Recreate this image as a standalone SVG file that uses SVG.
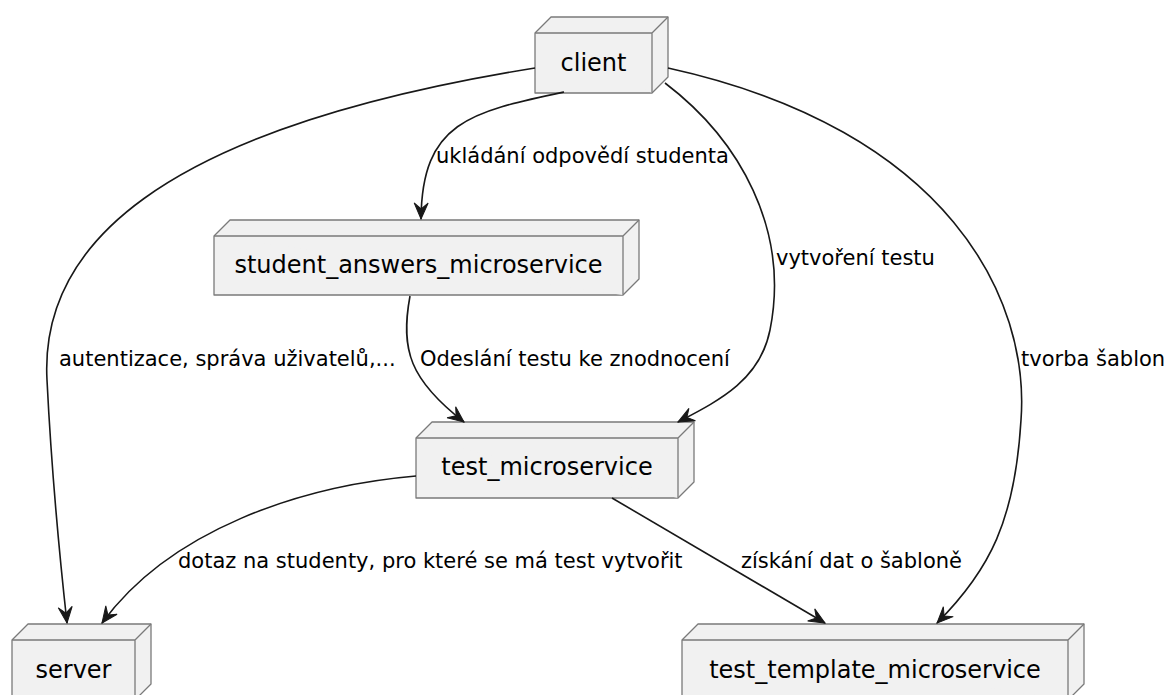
<svg xmlns="http://www.w3.org/2000/svg" width="1170" height="695" viewBox="0 0 1170 695">
  <style>
    .node path { fill: #F1F1F1; stroke: #7a7a7a; stroke-width: 1.3; stroke-linejoin: round; }
    .node text { font-family: "DejaVu Sans", "Noto Sans", sans-serif; font-size: 24px; fill: #000; text-anchor: middle; }
    .edge { fill: none; stroke: #181818; stroke-width: 1.6; }
    .label { font-family: "DejaVu Sans", "Noto Sans", sans-serif; font-size: 21px; fill: #000; }
  </style>
  <defs>
    <marker id="arrow" markerUnits="userSpaceOnUse" viewBox="-17 -8 18 16" refX="0" refY="0" markerWidth="18" markerHeight="16" orient="auto">
      <path d="M0,0 L-16,-7 L-10,0 L-16,7 Z" fill="#181818" stroke="#181818" stroke-width="1"/>
    </marker>
  </defs>
  <rect width="1170" height="695" fill="#ffffff"/>

  <!-- nodes: front face, top face and side face of a 3D box (depth 16) -->
  <g id="client" class="node">
    <path d="M535,33 L551,17 L668,17 L668,77 L652,93 L535,93 Z"/>
    <path d="M535,33 L652,33 L652,93 M652,33 L668,17"/>
    <text x="593.5" y="71">client</text>
  </g>
  <g id="student_answers_microservice" class="node">
    <path d="M214,236 L230,220 L639,220 L639,279 L623,295 L214,295 Z"/>
    <path d="M214,236 L623,236 L623,295 M623,236 L639,220"/>
    <text x="418.5" y="273">student_answers_microservice</text>
  </g>
  <g id="test_microservice" class="node">
    <path d="M416,438 L432,422 L694,422 L694,482 L678,498 L416,498 Z"/>
    <path d="M416,438 L678,438 L678,498 M678,438 L694,422"/>
    <text x="547" y="475">test_microservice</text>
  </g>
  <g id="server" class="node">
    <path d="M12,640 L28,624 L151,624 L151,684 L135,700 L12,700 Z"/>
    <path d="M12,640 L135,640 L135,700 M135,640 L151,624"/>
    <text x="73.5" y="678">server</text>
  </g>
  <g id="test_template_microservice" class="node">
    <path d="M682,640 L698,624 L1084,624 L1084,684 L1068,700 L682,700 Z"/>
    <path d="M682,640 L1068,640 L1068,700 M1068,640 L1084,624"/>
    <text x="875" y="678">test_template_microservice</text>
  </g>

  <!-- connectors -->
  <g id="connectors">
    <path class="edge" marker-end="url(#arrow)" d="M564,92 C470,112 422,122 421,219"/>
    <path class="edge" marker-end="url(#arrow)" d="M535,68 C150,130 40,250 47,380 C52,480 60,560 67,623"/>
    <path class="edge" marker-end="url(#arrow)" d="M665,83 C740,140 790,230 770,330 C760,380 720,400 678,422"/>
    <path class="edge" marker-end="url(#arrow)" d="M668,68 C950,130 1030,300 1021,420 C1015,520 990,570 937,623"/>
    <path class="edge" marker-end="url(#arrow)" d="M410,296 C400,350 410,380 464,422"/>
    <path class="edge" marker-end="url(#arrow)" d="M416,476 C300,486 170,530 102,623"/>
    <path class="edge" marker-end="url(#arrow)" d="M612,498 L825,623"/>

    <text class="label" x="436" y="163">ukládání odpovědí studenta</text>
    <text class="label" x="59" y="366">autentizace, správa uživatelů,...</text>
    <text class="label" x="776" y="265">vytvoření testu</text>
    <text class="label" x="1021" y="366">tvorba šablon</text>
    <text class="label" x="420" y="366">Odeslání testu ke znodnocení</text>
    <text class="label" x="178" y="568">dotaz na studenty, pro které se má test vytvořit</text>
    <text class="label" x="741" y="568">získání dat o šabloně</text>
  </g>
</svg>
